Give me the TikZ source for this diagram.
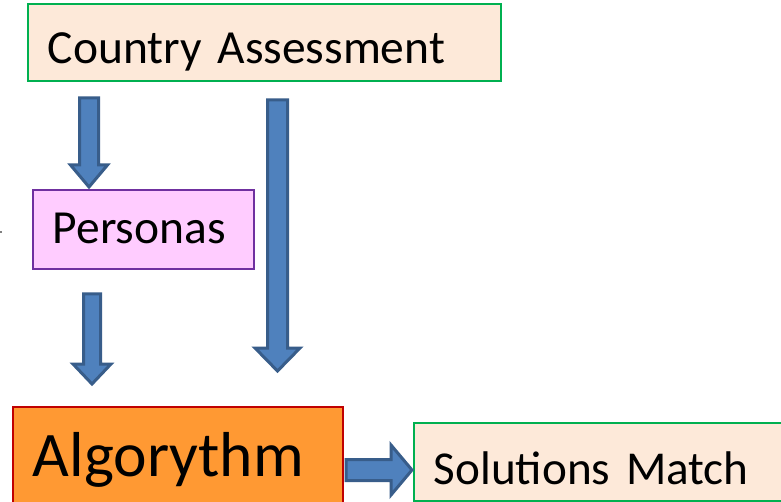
\documentclass[tikz,border=0pt]{standalone}
\usepackage{fontspec}
\setmainfont{Carlito}
\usetikzlibrary{calc}

\definecolor{peach}{HTML}{FDE9D9}
\definecolor{boxgreen}{HTML}{00B050}
\definecolor{pinkfill}{HTML}{FFCCFF}
\definecolor{purpleline}{HTML}{7030A0}
\definecolor{orangefill}{HTML}{FF9933}
\definecolor{redline}{HTML}{C00000}
\definecolor{arrowfill}{HTML}{4F81BD}
\definecolor{arrowline}{HTML}{385D8A}

\tikzset{
  box/.style={rectangle, line width=1.5pt, inner ysep=0pt, inner xsep=20pt,
              anchor=base west, align=left},
  blockarrow/.style={fill=arrowfill, draw=arrowline, line width=3pt, line join=miter},
}

% vertical block arrow: start, tip, shaft half-width, head half-width, head length
\newcommand\vblockarrow[5]{%
  \draw[blockarrow] let \p1=(#1), \p2=(#2) in
    (\x1-#3pt,\y1) -- (\x1+#3pt,\y1) -- (\x1+#3pt,\y2+#5pt) -- (\x1+#4pt,\y2+#5pt)
    -- (\x1,\y2) -- (\x1-#4pt,\y2+#5pt) -- (\x1-#3pt,\y2+#5pt) -- cycle;}
% horizontal block arrow pointing right
\newcommand\hblockarrow[5]{%
  \draw[blockarrow] let \p1=(#1), \p2=(#2) in
    (\x1,\y1+#3pt) -- (\x1,\y1-#3pt) -- (\x2-#5pt,\y1-#3pt) -- (\x2-#5pt,\y1-#4pt)
    -- (\x2,\y1) -- (\x2-#5pt,\y1+#4pt) -- (\x2-#5pt,\y1+#3pt) -- cycle;}

\begin{document}
\begin{tikzpicture}[x=1pt,y=-1pt]
  \clip (0,0) rectangle (781,502);
  \fill[white] (0,0) rectangle (781,502);

  % boxes
  \node[box, fill=peach, draw=boxgreen, text width=433pt, text height=60pt, text depth=17pt,
        font=\fontsize{47.5}{57}\selectfont] (ca) at (27,64) {Country Assessment};
  \node[box, fill=pinkfill, draw=purpleline, text width=181pt, text height=54pt, text depth=25pt,
        font=\fontsize{47.5}{57}\selectfont] (pe) at (32,244) {Personas};
  \node[box, fill=orangefill, draw=redline, text width=290pt, text height=69pt, text depth=60pt,
        font=\fontsize{63.5}{76}\selectfont] (al) at (12,476) {Algorythm};
  \node[box, fill=peach, draw=boxgreen, text width=400pt, text height=61pt, text depth=17pt,
        font=\fontsize{47.2}{57}\selectfont] (sm) at (413,484) {Solutions Match};

  % arrow end points
  \coordinate (a1s) at (89,98);
  \coordinate (a1e) at (89,187);
  \coordinate (a2s) at (92,294);
  \coordinate (a2e) at (92,384);
  \coordinate (a3s) at (277.5,100);
  \coordinate (a3e) at (277.5,371);
  \coordinate (a4s) at (346,470);
  \coordinate (a4e) at (412,470);

  \vblockarrow{a1s}{a1e}{9.5}{18.5}{22}
  \vblockarrow{a2s}{a2e}{8.5}{19}{20}
  \vblockarrow{a3s}{a3e}{10}{22.5}{23}
  \hblockarrow{a4s}{a4e}{10.5}{25}{21}

  % small mark at the left edge
  \fill[gray] (0,231) rectangle (2,233.5);
\end{tikzpicture}
\end{document}
